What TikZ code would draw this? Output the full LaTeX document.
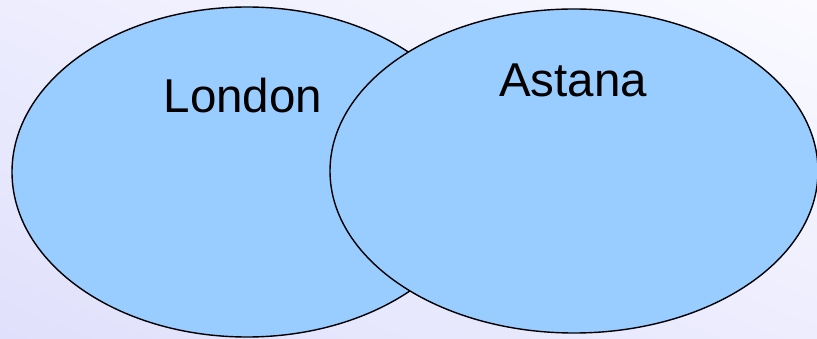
\documentclass[tikz,border=0pt]{standalone}
\usepackage{fontspec}
\setmainfont{Liberation Sans}
\usetikzlibrary{shapes.geometric,shadings}
\definecolor{setfill}{HTML}{99CCFF}
\definecolor{bglight}{HTML}{FAFAFF}
\definecolor{bgdark}{HTML}{E0E0FC}
\definecolor{bgmid}{HTML}{EDEDFE}
\begin{document}
\begin{tikzpicture}[x=1pt,y=-1pt,
  setshape/.style={draw=black,line width=1.4pt,fill=setfill},
  setlabel/.style={anchor=base,font=\fontsize{47.5}{56}\selectfont,text=black,inner sep=0pt}]
\useasboundingbox (0,0) rectangle (817,339);
\shade[upper left=bgmid,upper right=bglight,lower left=bgdark,lower right=bgmid] (0,0) rectangle (817,339);
\begin{scope}
\clip (0,0) rectangle (817,339);
\node[setshape,ellipse,minimum width=470pt,minimum height=330pt,inner sep=0pt] (london) at (247,172) {};
\node[setshape,ellipse,minimum width=488pt,minimum height=324pt,inner sep=0pt] (astana) at (574,171) {};
\end{scope}
\node[setlabel] (londontext) at (243,113) {London};
\node[setlabel] (astanatext) at (573,97) {Astana};
\end{tikzpicture}
\end{document}
